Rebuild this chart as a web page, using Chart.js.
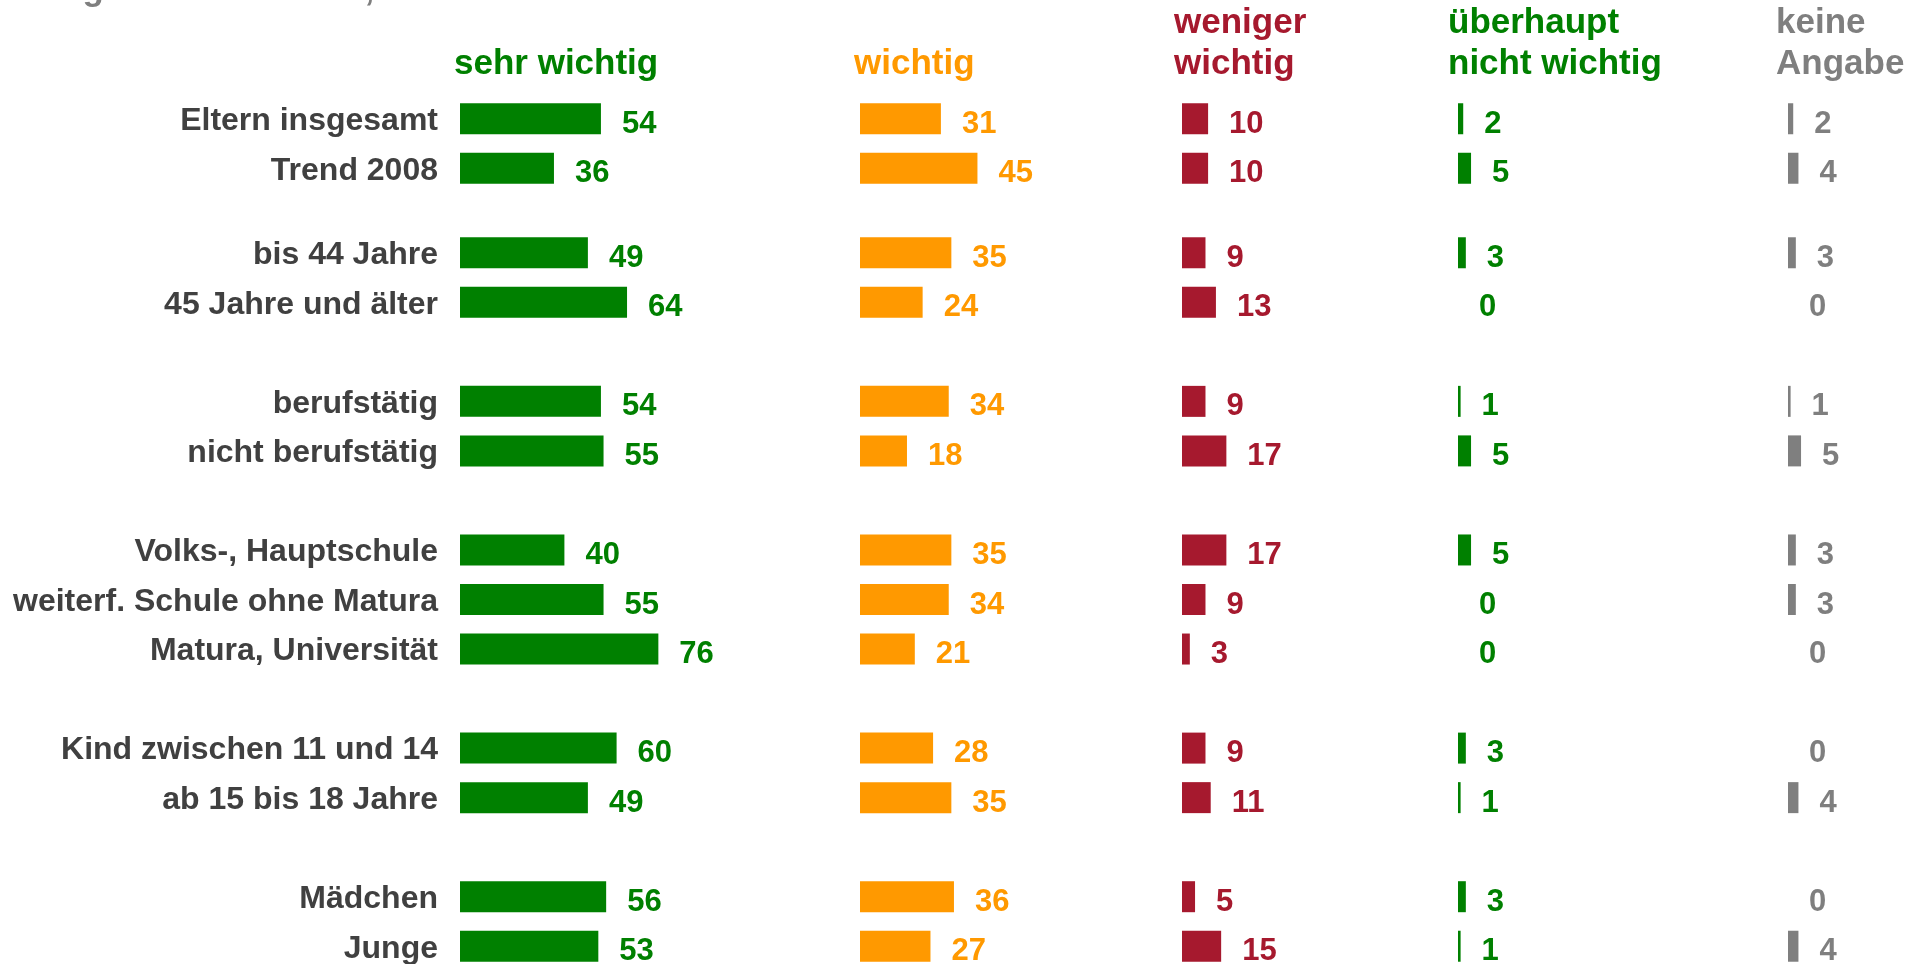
<!DOCTYPE html>
<html>
<head>
<meta charset="utf-8">
<script src="https://cdn.jsdelivr.net/npm/chart.js"></script>
<style>
  html, body { margin: 0; padding: 0; background: #fff; overflow: hidden; }
  #wrap { position: relative; width: 1917px; height: 964px; }
  canvas { position: absolute; left: 0; }
  #topChart { top: 0; }
  #mainChart { top: 228px; }
</style>
</head>
<body>
<div id="wrap">
  <canvas id="topChart" width="1917" height="194"></canvas>
  <canvas id="mainChart" width="1917" height="743"></canvas>
</div>
<script>
// Data ('' / null = gap between groups)
var categories = ['Eltern insgesamt', 'Trend 2008', '',
    'bis 44 Jahre', '45 Jahre und älter', '',
    'berufstätig', 'nicht berufstätig', '',
    'Volks-, Hauptschule', 'weiterf. Schule ohne Matura', 'Matura, Universität', '',
    'Kind zwischen 11 und 14', 'ab 15 bis 18 Jahre', '',
    'Mädchen', 'Junge'];
var sehrWichtig     = [54, 36, null, 49, 64, null, 54, 55, null, 40, 55, 76, null, 60, 49, null, 56, 53];
var wichtig         = [31, 45, null, 35, 24, null, 34, 18, null, 35, 34, 21, null, 28, 35, null, 36, 27];
var wenigerWichtig  = [10, 10, null, 9, 13, null, 9, 17, null, 17, 9, 3, null, 9, 11, null, 5, 15];
var ueberhauptNicht = [2, 5, null, 3, 0, null, 1, 5, null, 5, 0, 0, null, 3, 1, null, 3, 1];
var keineAngabe     = [2, 4, null, 3, 0, null, 1, 5, null, 3, 3, 0, null, 0, 4, null, 0, 4];
var seriesNames = [['sehr wichtig'], ['wichtig'], ['weniger', 'wichtig'], ['überhaupt', 'nicht wichtig'], ['keine', 'Angabe']];
var titleText = 'Fragen an die Eltern,';

// Layout / style
var seriesColors = ['#008000', '#ff9900', '#a6192e', '#008000', '#7f7f7f'];
var colStart = [460, 860, 1182, 1458, 1788];   // pixel where each column's zero sits
var headerX = [454, 854, 1174, 1448, 1776];
var pxPerUnit = 2.61;
var plotLeft = 460;
var plotWidth = 1917 - plotLeft;
var fontFamily = '"Liberation Sans", Arial, sans-serif';

var allSeries = [sehrWichtig, wichtig, wenigerWichtig, ueberhauptNicht, keineAngabe];

// Value labels to the right of each bar
var valueLabels = {
    id: 'valueLabels',
    afterDatasetsDraw: function(chart) {
        var ctx = chart.ctx;
        ctx.save();
        ctx.font = 'bold 31px ' + fontFamily;
        ctx.textAlign = 'left';
        ctx.textBaseline = 'alphabetic';
        chart.data.datasets.forEach(function(ds, i) {
            var meta = chart.getDatasetMeta(i);
            meta.data.forEach(function(bar, j) {
                var v = ds.data[j];
                if (v === null || v === undefined) return;
                ctx.fillStyle = ds.backgroundColor;
                ctx.fillText(String(v), bar.x + 21, bar.y + 14);
            });
        });
        ctx.restore();
    }
};

// Column headers (and the clipped title line) on the top chart only
var headers = {
    id: 'headers',
    afterDraw: function(chart) {
        var ctx = chart.ctx;
        ctx.save();
        ctx.font = 'bold 35px ' + fontFamily;
        ctx.textAlign = 'left';
        ctx.textBaseline = 'alphabetic';
        ctx.fillStyle = '#7f7f7f';
        ctx.fillText(titleText, 28, 0);
        seriesNames.forEach(function(lines, i) {
            ctx.fillStyle = seriesColors[i];
            var y = 74 - (lines.length - 1) * 41;
            lines.forEach(function(line) {
                ctx.fillText(line, headerX[i], y);
                y += 41;
            });
        });
        ctx.restore();
    }
};

function buildScales() {
    var scales = {
        y: {
            type: 'category',
            grid: { display: false, drawTicks: false },
            border: { display: false },
            ticks: {
                color: '#404040',
                padding: 22,
                labelOffset: 2.5,
                font: { family: fontFamily, size: 32, weight: 'bold' }
            },
            afterFit: function(scale) {
                scale.width = plotLeft;
                scale.paddingTop = 0;
                scale.paddingBottom = 0;
            }
        }
    };
    colStart.forEach(function(start, i) {
        var min = -(start - plotLeft) / pxPerUnit;
        scales['x' + i] = {
            type: 'linear',
            display: false,
            min: min,
            max: min + plotWidth / pxPerUnit
        };
    });
    return scales;
}

function makeChart(canvasId, from, to, padding, plugins) {
    var ctx = document.getElementById(canvasId).getContext('2d');
    return new Chart(ctx, {
        type: 'bar',
        data: {
            labels: categories.slice(from, to),
            datasets: allSeries.map(function(values, i) {
                return {
                    label: seriesNames[i].join(' '),
                    data: values.slice(from, to),
                    backgroundColor: seriesColors[i],
                    xAxisID: 'x' + i,
                    grouped: false,
                    inflateAmount: 0,
                    barThickness: 31
                };
            })
        },
        options: {
            indexAxis: 'y',
            responsive: false,
            animation: false,
            devicePixelRatio: 1,
            layout: { padding: padding },
            plugins: { legend: { display: false }, tooltip: { enabled: false } },
            scales: buildScales()
        },
        plugins: plugins
    });
}

var split = categories.indexOf('');
makeChart('topChart', 0, split, { top: 94, bottom: 1, left: 0, right: 0 }, [valueLabels, headers]);
makeChart('mainChart', split + 1, categories.length, { top: 0, bottom: 0, left: 0, right: 0 }, [valueLabels]);
</script>
</body>
</html>
